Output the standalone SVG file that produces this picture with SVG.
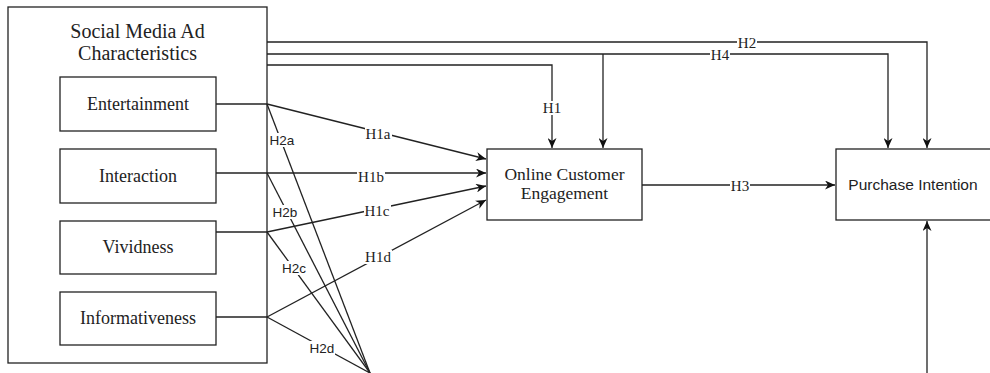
<svg xmlns="http://www.w3.org/2000/svg" width="990" height="373" viewBox="0 0 990 373">
<style>
.box{fill:#fff;stroke:#222;stroke-width:1.3}
.ln{fill:none;stroke:#222;stroke-width:1.3}
.arr{marker-end:url(#ah)}
.serif{font-family:"Liberation Serif","Times New Roman",serif;fill:#222}
.sans{font-family:"Liberation Sans",Arial,sans-serif;fill:#222}
.nt{font-size:18px;text-anchor:middle}
.lbl{font-size:15px;text-anchor:middle;dominant-baseline:central}
.lbs{font-size:13.5px;text-anchor:middle;dominant-baseline:central}
.bg{fill:#fff}
</style>
<defs>
<marker id="ah" markerWidth="11" markerHeight="9" refX="10" refY="4.5" orient="auto" markerUnits="userSpaceOnUse">
<path d="M0,0 L10,4.5 L0,9 L3,4.5 z" fill="#111"/>
</marker>
</defs>

<g id="connectors">
<!-- top lines -->
<polyline class="ln arr" points="267,42 927,42 927,148"/>
<polyline class="ln arr" points="267,54 888,54 888,148"/>
<polyline class="ln arr" points="603,54 603,148"/>
<polyline class="ln arr" points="267,65 552,65 552,148"/>
<!-- box stubs -->
<line class="ln" x1="216" y1="104" x2="267" y2="104"/>
<line class="ln" x1="216" y1="173" x2="267" y2="173"/>
<line class="ln" x1="216" y1="232" x2="267" y2="232"/>
<line class="ln" x1="216" y1="317" x2="267" y2="317"/>
<!-- H1a-d -->
<line class="ln arr" x1="267" y1="104" x2="486" y2="159"/>
<line class="ln arr" x1="267" y1="173" x2="486" y2="173"/>
<line class="ln arr" x1="267" y1="232" x2="486" y2="186"/>
<line class="ln arr" x1="267" y1="317" x2="486" y2="200"/>
<!-- H2a-d -->
<line class="ln" x1="267" y1="104" x2="370" y2="373"/>
<line class="ln" x1="267" y1="173" x2="370" y2="373"/>
<line class="ln" x1="267" y1="232" x2="370" y2="373"/>
<line class="ln" x1="267" y1="317" x2="370" y2="373"/>
<polyline class="ln arr" points="370,373.6 927,373.6 927,221"/>
<!-- H3 -->
<line class="ln arr" x1="642" y1="185" x2="835" y2="185"/>

<!-- labels -->
<rect class="bg" x="737" y="35" width="20" height="14"/>
<text class="serif lbl" x="747" y="43">H2</text>
<rect class="bg" x="710" y="48" width="20" height="14"/>
<text class="serif lbl" x="720" y="55">H4</text>
<rect class="bg" x="545" y="101" width="15" height="14"/>
<text class="serif lbl" x="552" y="108">H1</text>
<rect class="bg" x="365" y="127" width="27" height="14"/>
<text class="serif lbl" x="378" y="134">H1a</text>
<rect class="bg" x="357" y="170" width="28" height="14"/>
<text class="serif lbl" x="371" y="177">H1b</text>
<rect class="bg" x="364" y="204" width="27" height="14"/>
<text class="serif lbl" x="377" y="211">H1c</text>
<rect class="bg" x="364" y="250" width="28" height="14"/>
<text class="serif lbl" x="378" y="257">H1d</text>
<rect class="bg" x="730" y="178" width="20" height="14"/>
<text class="serif lbl" x="740" y="186">H3</text>
<rect class="bg" x="269" y="133" width="26" height="14"/>
<text class="sans lbs" x="282" y="140">H2a</text>
<rect class="bg" x="272" y="205" width="26" height="14"/>
<text class="sans lbs" x="285" y="212">H2b</text>
<rect class="bg" x="281" y="261" width="26" height="14"/>
<text class="sans lbs" x="294" y="268">H2c</text>
<rect class="bg" x="309" y="341" width="26" height="14"/>
<text class="sans lbs" x="322" y="348">H2d</text>
</g>

<g id="social-media-ad-characteristics">
<rect class="box" x="8" y="7" width="259" height="356" style="fill:none"/>
<text class="serif" x="137.5" y="38" font-size="20" text-anchor="middle">Social Media Ad</text>
<text class="serif" x="137.5" y="60" font-size="20" text-anchor="middle">Characteristics</text>
</g>
<g id="entertainment">
<rect class="box" x="60" y="77" width="156" height="54"/>
<text class="serif nt" x="138" y="110">Entertainment</text>
</g>
<g id="interaction">
<rect class="box" x="60" y="149" width="156" height="54"/>
<text class="serif nt" x="138" y="182">Interaction</text>
</g>
<g id="vividness">
<rect class="box" x="60" y="221" width="156" height="53"/>
<text class="serif nt" x="138" y="253">Vividness</text>
</g>
<g id="informativeness">
<rect class="box" x="60" y="292" width="156" height="53"/>
<text class="serif nt" x="138" y="324">Informativeness</text>
</g>
<g id="online-customer-engagement">
<rect class="box" x="487" y="149" width="155" height="71"/>
<text class="serif" x="564.5" y="180" font-size="17.5" text-anchor="middle">Online Customer</text>
<text class="serif" x="564.5" y="199" font-size="17.5" text-anchor="middle">Engagement</text>
</g>
<g id="purchase-intention">
<rect class="box" x="836" y="149" width="170" height="71"/>
<text class="sans" x="913" y="190" font-size="15.5" text-anchor="middle">Purchase Intention</text>
</g>
</svg>
